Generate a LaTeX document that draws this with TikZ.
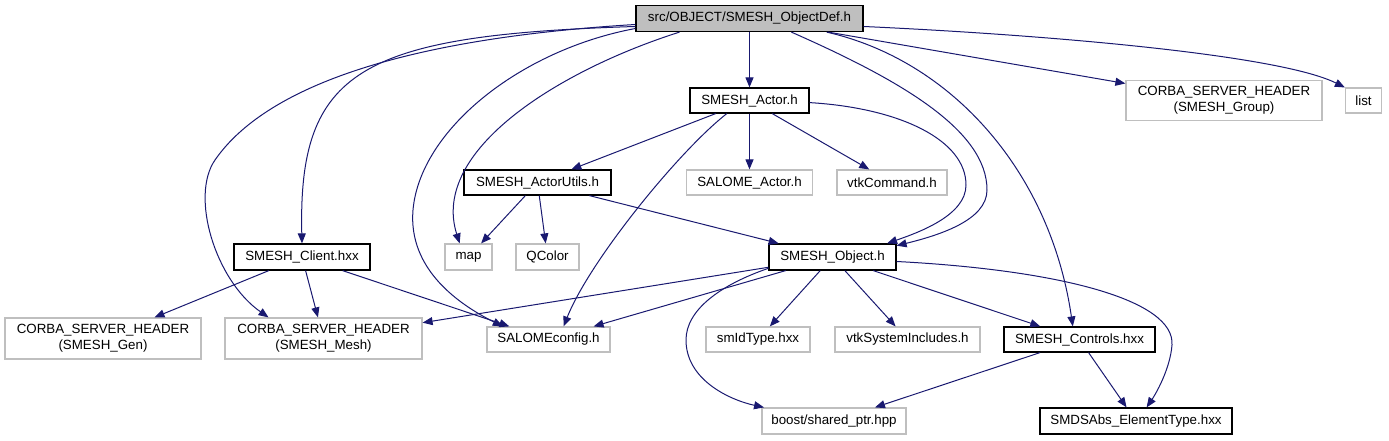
\documentclass[tikz,border=0pt]{standalone}
\usepackage{fontspec}
\setmainfont{Liberation Sans}
\usetikzlibrary{arrows.meta}
\definecolor{edgeblue}{HTML}{191970}
\definecolor{extgray}{HTML}{BFBFBF}
\definecolor{topfill}{HTML}{BFBFBF}

\tikzset{
  hdr/.style={draw=black, line width=0.9pt, inner sep=0pt, align=center, font=\fontsize{10}{12}\selectfont},
  ext/.style={hdr, draw=extgray},
  sz/.style 2 args={minimum width=#1*0.75pt, minimum height=#2*0.75pt},
  dep/.style={edgeblue, line width=0.75pt, -{Triangle[length=7.5pt,width=6pt]}}
}

\begin{document}
\begin{tikzpicture}[x=0.75pt,y=-0.75pt]
  \useasboundingbox (0,0) rectangle (1389,440);

  % The header itself
  \node[hdr, fill=topfill, sz={227}{26}] (objdef) at (749.5,18.5) {src/OBJECT/SMESH\_ObjectDef.h};

  % First level
  \node[hdr, sz={119}{25}] (actor) at (749.5,100.5) {SMESH\_Actor.h};
  \node[ext, sz={196}{40}] (group) at (1224,100.5) {CORBA\_SERVER\_HEADER\\(SMESH\_Group)};
  \node[ext, sz={36}{25}] (list) at (1363.5,100.5) {list};

  % Second level
  \node[hdr, sz={147}{25}] (utils) at (537.5,182.5) {SMESH\_ActorUtils.h};
  \node[ext, sz={126}{25}] (salactor) at (749.5,182.5) {SALOME\_Actor.h};
  \node[ext, sz={110}{25}] (vtkcmd) at (892,182.5) {vtkCommand.h};

  % Third level
  \node[hdr, sz={136}{26}] (client) at (302,257) {SMESH\_Client.hxx};
  \node[ext, sz={47}{26}] (map) at (468.5,257) {map};
  \node[ext, sz={63}{26}] (qcolor) at (547.5,257) {QColor};
  \node[hdr, sz={127}{26}] (object) at (832.5,257) {SMESH\_Object.h};

  % Fourth level
  \node[ext, sz={196}{41}] (gen) at (103,338.5) {CORBA\_SERVER\_HEADER\\(SMESH\_Gen)};
  \node[ext, sz={197}{41}] (mesh) at (323.5,338.5) {CORBA\_SERVER\_HEADER\\(SMESH\_Mesh)};
  \node[ext, sz={123}{25}] (salconf) at (548.5,339.5) {SALOMEconfig.h};
  \node[ext, sz={104}{25}] (smid) at (758,339.5) {smIdType.hxx};
  \node[ext, sz={145}{25}] (vtksys) at (907.5,339.5) {vtkSystemIncludes.h};
  \node[hdr, sz={151}{25}] (controls) at (1079.5,339.5) {SMESH\_Controls.hxx};

  % Bottom level
  \node[ext, sz={144}{26}] (boost) at (834,421) {boost/shared\_ptr.hpp};
  \node[hdr, sz={192}{26}] (smds) at (1136,421) {SMDSAbs\_ElementType.hxx};

  % Includes of the header
  \draw[dep] (objdef) -- (actor);
  \draw[dep] (objdef) -- (group);
  \draw[dep] (objdef.356) .. controls (1050,35) and (1280,55) .. (list.145);
  \draw[dep] (objdef.183) .. controls (380,40) and (260,95) .. (215,160)
    .. controls (190,196) and (215,280) .. (mesh.159);
  \draw[dep] (objdef.184) .. controls (360,35) and (298,70) .. (client.north);
  \draw[dep] (objdef.185) .. controls (520,50) and (420,130) .. (413,210)
    .. controls (408,270) and (460,305) .. (salconf.164);
  \draw[dep] (objdef.191) .. controls (560,70) and (430,150) .. (map.123);
  \draw[dep] (objdef.342) .. controls (900,80) and (987,130) .. (987,190)
    .. controls (987,220) and (940,235) .. (object.10);
  \draw[dep] (objdef.350) .. controls (950,60) and (1050,170) .. (controls.117);

  % Includes of SMESH_Actor.h
  \draw[dep] (actor) -- (utils);
  \draw[dep] (actor.210) .. controls (680,150) and (590,260) .. (salconf.41);
  \draw[dep] (actor) -- (salactor);
  \draw[dep] (actor) -- (vtkcmd);
  \draw[dep] (actor.358) .. controls (900,108) and (966,140) .. (966,185)
    .. controls (966,215) and (920,232) .. (object.14);

  % Includes of SMESH_ActorUtils.h
  \draw[dep] (utils) -- (map);
  \draw[dep] (utils) -- (qcolor);
  \draw[dep] (utils) -- (object);

  % Includes of SMESH_Client.hxx
  \draw[dep] (client) -- (gen);
  \draw[dep] (client) -- (mesh);
  \draw[dep] (client) -- (salconf);

  % Includes of SMESH_Object.h
  \draw[dep] (object) -- (mesh);
  \draw[dep] (object) -- (salconf);
  \draw[dep] (object.190) .. controls (720,285) and (686,310) .. (686,340)
    .. controls (686,380) and (730,400) .. (boost.169);
  \draw[dep] (object) -- (smid);
  \draw[dep] (object) -- (vtksys);
  \draw[dep] (object) -- (controls);
  \draw[dep] (object.356) .. controls (1060,270) and (1175,300) .. (1172,345)
    .. controls (1170,370) and (1155,395) .. (smds.52);

  % Includes of SMESH_Controls.hxx
  \draw[dep] (controls) -- (boost);
  \draw[dep] (controls) -- (smds);
\end{tikzpicture}
\end{document}
